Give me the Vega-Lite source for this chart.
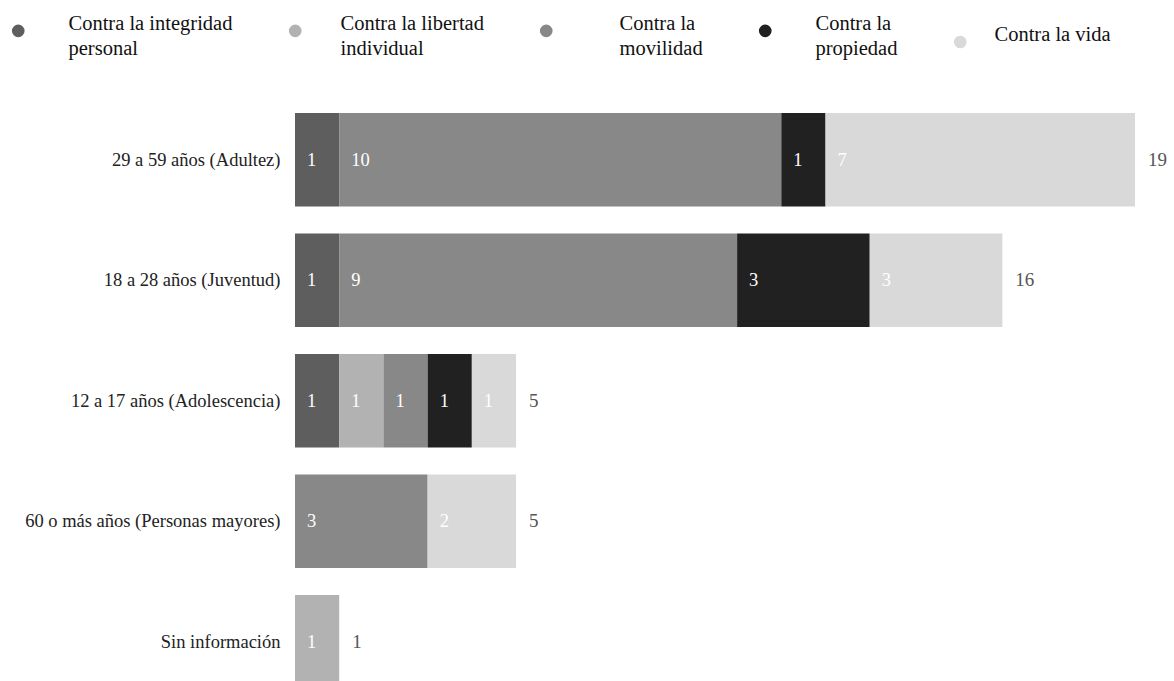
{
  "$schema": "https://vega.github.io/schema/vega-lite/v6.json",
  "width": 840,
  "height": 581.5,
  "autosize": {"type": "none"},
  "padding": {"left": 295, "top": 99.5, "right": 39, "bottom": 0},
  "background": "white",
  "config": {"font": "'Liberation Serif', 'Times New Roman', serif", "view": {"stroke": null}},
  "data": {
    "values": [
      {"age": "29 a 59 años (Adultez)", "crime": "Contra la integridad personal", "value": 1},
      {"age": "29 a 59 años (Adultez)", "crime": "Contra la movilidad", "value": 10},
      {"age": "29 a 59 años (Adultez)", "crime": "Contra la propiedad", "value": 1},
      {"age": "29 a 59 años (Adultez)", "crime": "Contra la vida", "value": 7},
      {"age": "18 a 28 años (Juventud)", "crime": "Contra la integridad personal", "value": 1},
      {"age": "18 a 28 años (Juventud)", "crime": "Contra la movilidad", "value": 9},
      {"age": "18 a 28 años (Juventud)", "crime": "Contra la propiedad", "value": 3},
      {"age": "18 a 28 años (Juventud)", "crime": "Contra la vida", "value": 3},
      {"age": "12 a 17 años (Adolescencia)", "crime": "Contra la integridad personal", "value": 1},
      {"age": "12 a 17 años (Adolescencia)", "crime": "Contra la libertad individual", "value": 1},
      {"age": "12 a 17 años (Adolescencia)", "crime": "Contra la movilidad", "value": 1},
      {"age": "12 a 17 años (Adolescencia)", "crime": "Contra la propiedad", "value": 1},
      {"age": "12 a 17 años (Adolescencia)", "crime": "Contra la vida", "value": 1},
      {"age": "60 o más años (Personas mayores)", "crime": "Contra la movilidad", "value": 3},
      {"age": "60 o más años (Personas mayores)", "crime": "Contra la vida", "value": 2},
      {"age": "Sin información", "crime": "Contra la libertad individual", "value": 1}
    ]
  },
  "transform": [
    {"stack": "value", "groupby": ["age"], "sort": [{"field": "crime", "order": "ascending"}], "as": ["v0", "v1"]}
  ],
  "encoding": {
    "y": {
      "field": "age",
      "type": "nominal",
      "sort": ["29 a 59 años (Adultez)", "18 a 28 años (Juventud)", "12 a 17 años (Adolescencia)", "60 o más años (Personas mayores)", "Sin información"],
      "scale": {"range": [0, 602.5], "paddingInner": 0.225, "paddingOuter": 0.1125},
      "axis": {"title": null, "domain": false, "ticks": false, "labelPadding": 15, "labelFontSize": 18.5, "labelColor": "#222222", "labelLimit": 400}
    }
  },
  "layer": [
    {
      "mark": {"type": "bar"},
      "encoding": {
        "x": {"field": "v0", "type": "quantitative", "scale": {"domain": [0, 19], "nice": false, "zero": true}, "axis": null},
        "x2": {"field": "v1"},
        "color": {
          "field": "crime",
          "type": "nominal",
          "scale": {
            "domain": ["Contra la integridad personal", "Contra la libertad individual", "Contra la movilidad", "Contra la propiedad", "Contra la vida"],
            "range": ["#5e5e5e", "#b2b2b2", "#888888", "#212121", "#d9d9d9"]
          },
          "legend": {
            "orient": "none",
            "legendX": -287,
            "legendY": -79,
            "direction": "horizontal",
            "title": null,
            "symbolType": "circle",
            "symbolSize": 160,
            "symbolStrokeWidth": 0,
            "symbolOpacity": 1,
            "labelFontSize": 20.5,
            "labelOffset": 40,
            "columnPadding": 52,
            "labelColor": "#111111",
            "labelLimit": 300,
            "padding": 0,
            "labelBaseline": "middle",
            "labelExpr": "datum.label == 'Contra la integridad personal' ? ['Contra la integridad', 'personal'] : datum.label == 'Contra la libertad individual' ? ['Contra la libertad', 'individual'] : datum.label == 'Contra la movilidad' ? ['Contra la', 'movilidad'] : datum.label == 'Contra la propiedad' ? ['Contra la', 'propiedad'] : datum.label",
            "encode": {"labels": {"update": {
              "lineHeight": {"value": 25},
              "dy": {"value": -7},
              "dx": {"signal": "datum.label == 'Contra la libertad individual' ? -5 : datum.label == 'Contra la movilidad' ? 23 : datum.label == 'Contra la vida' ? -16 : 0"}
            }}}
          }
        }
      }
    },
    {
      "mark": {"type": "text", "align": "left", "baseline": "middle", "dx": 12, "color": "white", "fontSize": 18.5},
      "encoding": {
        "x": {"field": "v0", "type": "quantitative"},
        "text": {"field": "value", "type": "quantitative"}
      }
    },
    {
      "transform": [{"aggregate": [{"op": "sum", "field": "value", "as": "total"}], "groupby": ["age"]}],
      "mark": {"type": "text", "align": "left", "baseline": "middle", "dx": 13, "color": "#555555", "fontSize": 19},
      "encoding": {
        "x": {"field": "total", "type": "quantitative"},
        "text": {"field": "total", "type": "quantitative"}
      }
    }
  ]
}
